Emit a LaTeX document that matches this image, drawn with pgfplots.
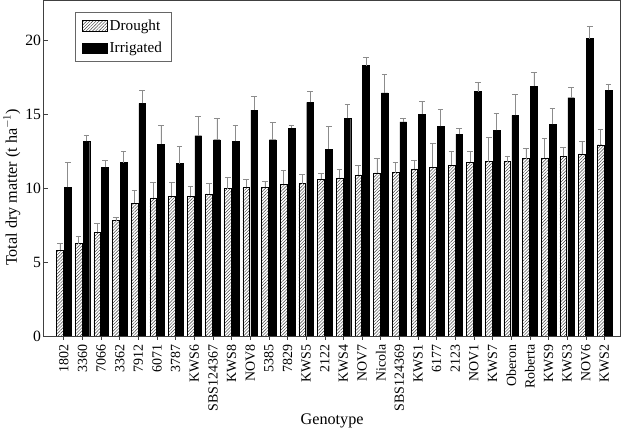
\documentclass[border=0pt]{standalone}
\usepackage{pgfplots}
\pgfplotsset{compat=1.18}
\usepackage{pgfplotstable}
\usepackage{fontspec}
\setmainfont{Liberation Serif}
\usetikzlibrary{patterns.meta}
\pgfplotstableread{
x D De I Ie
0 5.79 0.46 10.05 1.71
1 6.25 0.52 13.15 0.45
2 7.00 0.60 11.40 0.47
3 7.80 0.22 11.72 0.78
4 8.98 0.87 15.73 0.89
5 9.34 1.06 12.97 1.26
6 9.46 0.94 11.65 1.18
7 9.46 0.66 13.54 1.30
8 9.60 0.73 13.27 1.48
9 9.96 0.78 13.15 1.12
10 10.05 0.53 15.27 0.94
11 10.05 0.39 13.27 1.16
12 10.26 0.96 14.06 0.19
13 10.30 0.62 15.80 0.76
14 10.60 0.39 12.63 1.53
15 10.69 0.60 14.71 0.95
16 10.90 0.66 18.28 0.57
17 11.03 1.01 16.44 1.23
18 11.05 0.71 14.47 0.24
19 11.29 0.61 15.00 0.84
20 11.40 1.60 14.18 1.12
21 11.56 0.96 13.65 0.37
22 11.74 0.78 16.53 0.61
23 11.79 1.61 13.90 1.17
24 11.79 0.39 14.91 1.41
25 11.99 0.73 16.90 0.95
26 12.04 1.32 14.30 1.09
27 12.15 0.61 16.11 0.69
28 12.31 0.86 20.11 0.84
29 12.93 1.02 16.61 0.44
}\data
\begin{document}
\begin{tikzpicture}
\begin{axis}[
  width=571pt, height=332pt, scale only axis,
  xmin=-1.09, xmax=29.87, ymin=0, ymax=22.7,
  ybar, bar width=0.36,
  axis line style={black!75, line width=0.6pt},
  xtick=data,
  xticklabels={1802,3360,7066,3362,7912,6071,3787,KWS6,SBS124367,KWS8,NOV8,5385,7829,KWS5,2122,KWS4,NOV7,Nicola,SBS124369,KWS1,6177,2123,NOV1,KWS7,Oberon,Roberta,KWS9,KWS3,NOV6,KWS2},
  x tick label style={rotate=90, anchor=east, font=\fontsize{13.8}{15}\selectfont, xshift=-1pt},
  xtick pos=bottom, xtick align=outside,
  ytick={0,5,10,15,20},
  ytick pos=left, ytick align=inside,
  y tick label style={font=\fontsize{15.5}{17}\selectfont, xshift=1pt},
  major tick length=4pt,
  tick style={black!75, line width=0.6pt},
  xlabel={Genotype}, ylabel={Total dry matter (t ha$^{-1}$)},
  label style={font=\fontsize{16}{18}\selectfont},
  ylabel style={at={(ticklabel cs:0.443)}, yshift=-2pt},
  xlabel style={yshift=4pt},
  /pgf/number format/assume math mode=true,
  legend style={at={(0.054,0.964)}, anchor=north west, draw=black!60, line width=0.5pt,
    font=\fontsize{15}{17}\selectfont, row sep=6pt, inner xsep=7pt, inner ysep=5pt,
    legend cell align=left},
  legend image code/.code={\draw[#1] (0pt,-5pt) rectangle (25pt,5pt);},
  error bars/y dir=plus, error bars/y explicit,
  error bars/error bar style={black!45, line width=0.6pt},
  error bars/error mark options={black!45, line width=0.6pt, rotate=90, mark size=2.8pt},
]
\addplot[bar shift=-0.21, draw=black, line width=0.4pt, fill=white,
  postaction={pattern={Lines[angle=45,distance=2.2pt,line width=0.45pt]}, pattern color=black!75}]
  table[x=x, y=D, y error=De] {\data};
\addlegendentry{Drought}
\addplot[bar shift=0.21, draw=black, fill=black, line width=0.4pt]
  table[x=x, y=I, y error=Ie] {\data};
\addlegendentry{Irrigated}
\end{axis}
\end{tikzpicture}
\end{document}
